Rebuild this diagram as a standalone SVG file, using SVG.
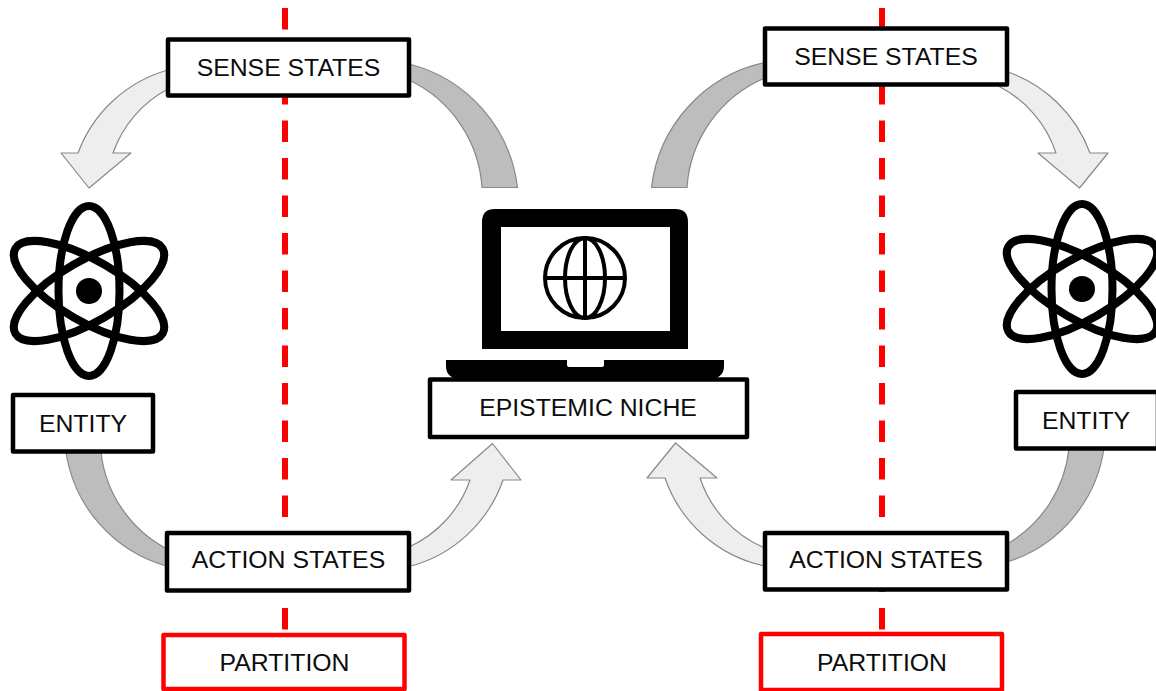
<svg xmlns="http://www.w3.org/2000/svg" width="1156" height="691" viewBox="0 0 1156 691">
<defs>
<style>
.box{fill:#fff;stroke:#000;stroke-width:4.5;stroke-linejoin:round}
.red{fill:#fff;stroke:#f00;stroke-width:4.5;stroke-linejoin:round}
.lbl{font-family:"Liberation Sans",Arial,sans-serif;font-size:24.8px;fill:#0c0c0c;text-anchor:middle}
.dark{fill:#bdbdbd;stroke:#888;stroke-width:1.2;stroke-linejoin:round}
.light{fill:#eee;stroke:#888;stroke-width:1.2;stroke-linejoin:round}
.dash{stroke:#f00;stroke-width:6;stroke-dasharray:21.5 16;fill:none}
.orb{fill:none;stroke:#000;stroke-width:8}
</style>
<g id="atomShape">
<ellipse class="orb" rx="30.500" ry="85"/>
<ellipse class="orb" rx="30.500" ry="85" transform="rotate(60)"/>
<ellipse class="orb" rx="30.500" ry="85" transform="rotate(-60)"/>
<circle r="13" fill="#000"/>
</g>
</defs>
<rect width="1156" height="691" fill="#fff"/>
<g id="connectors">
<path class="dash" d="M285 8V630"/>
<path class="dash" d="M882 8V630"/>
<path class="light" d="M168 70A135 135 0 0 0 78 153H61L89 188L131 153H113A115 115 0 0 1 168 89Z"/>
<path class="dark" d="M409 64A145 145 0 0 1 517.500 187.500H482A128 128 0 0 0 409 80Z"/>
<path class="dark" d="M765 62.500A145 145 0 0 0 651.500 187.500H687A128 128 0 0 1 765 78Z"/>
<path class="light" d="M1005 71A135 135 0 0 1 1090 153H1108L1079.500 188L1038 153H1056A115 115 0 0 0 1000 87Z"/>
<path class="dark" d="M66 452A140 140 0 0 0 168 566.500V549.500A125 125 0 0 1 101 452Z"/>
<path class="light" d="M409 566.500A135 135 0 0 0 503 480H521L492.500 443.500L451 480H470A115 115 0 0 1 409 547Z"/>
<path class="light" d="M765 566A135 135 0 0 1 665 478H647L675.500 443L717 478H700A115 115 0 0 0 765 548Z"/>
<path class="dark" d="M1104 448A140 140 0 0 1 1007 562V544A125 125 0 0 0 1069 448Z"/>
</g>
<g id="sense-left"><rect class="box" x="168" y="39.500" width="241" height="56"/><text class="lbl" x="288.500" y="76">SENSE STATES</text></g>
<g id="sense-right"><rect class="box" x="765" y="28.500" width="242" height="56"/><text class="lbl" x="886" y="65">SENSE STATES</text></g>
<g id="entity-left-icon"><use href="#atomShape" x="89" y="291"/></g>
<g id="entity-right-icon"><use href="#atomShape" x="1082" y="289"/></g>
<g id="entity-left"><rect class="box" x="13" y="395" width="140" height="56.500"/><text class="lbl" x="83" y="432">ENTITY</text></g>
<g id="entity-right"><rect class="box" x="1016" y="392" width="142" height="56.500"/><text class="lbl" x="1086" y="429">ENTITY</text></g>
<g id="action-left"><rect class="box" x="167" y="533" width="242" height="57.500"/><text class="lbl" x="288.500" y="568">ACTION STATES</text></g>
<g id="action-right"><rect class="box" x="765" y="533" width="242" height="56.500"/><text class="lbl" x="886" y="568">ACTION STATES</text></g>
<g id="partition-left"><rect class="red" x="163.500" y="635" width="241" height="54"/><text class="lbl" x="284.500" y="671">PARTITION</text></g>
<g id="partition-right"><rect class="red" x="761" y="634" width="241" height="56"/><text class="lbl" x="882" y="671">PARTITION</text></g>
<g id="epistemic-niche">
<path d="M482 349V222Q482 209 495 209H675Q688 209 688 222V349Z" fill="#000"/>
<rect x="501" y="227" width="169" height="104" fill="#fff"/>
<g fill="none" stroke="#000" stroke-width="4">
<circle cx="585" cy="278" r="40"/>
<ellipse cx="585" cy="278" rx="20" ry="40"/>
<path d="M585 238V318M545 278H625"/>
</g>
<path d="M446 360H567V365Q567 367 570 367H601Q604 367 604 365V360H724V366Q724 379 708 379H462Q446 379 446 366Z" fill="#000"/>
<rect class="box" x="430" y="379.500" width="317" height="57.500"/>
<text class="lbl" x="588" y="415.500">EPISTEMIC NICHE</text>
</g>
</svg>
